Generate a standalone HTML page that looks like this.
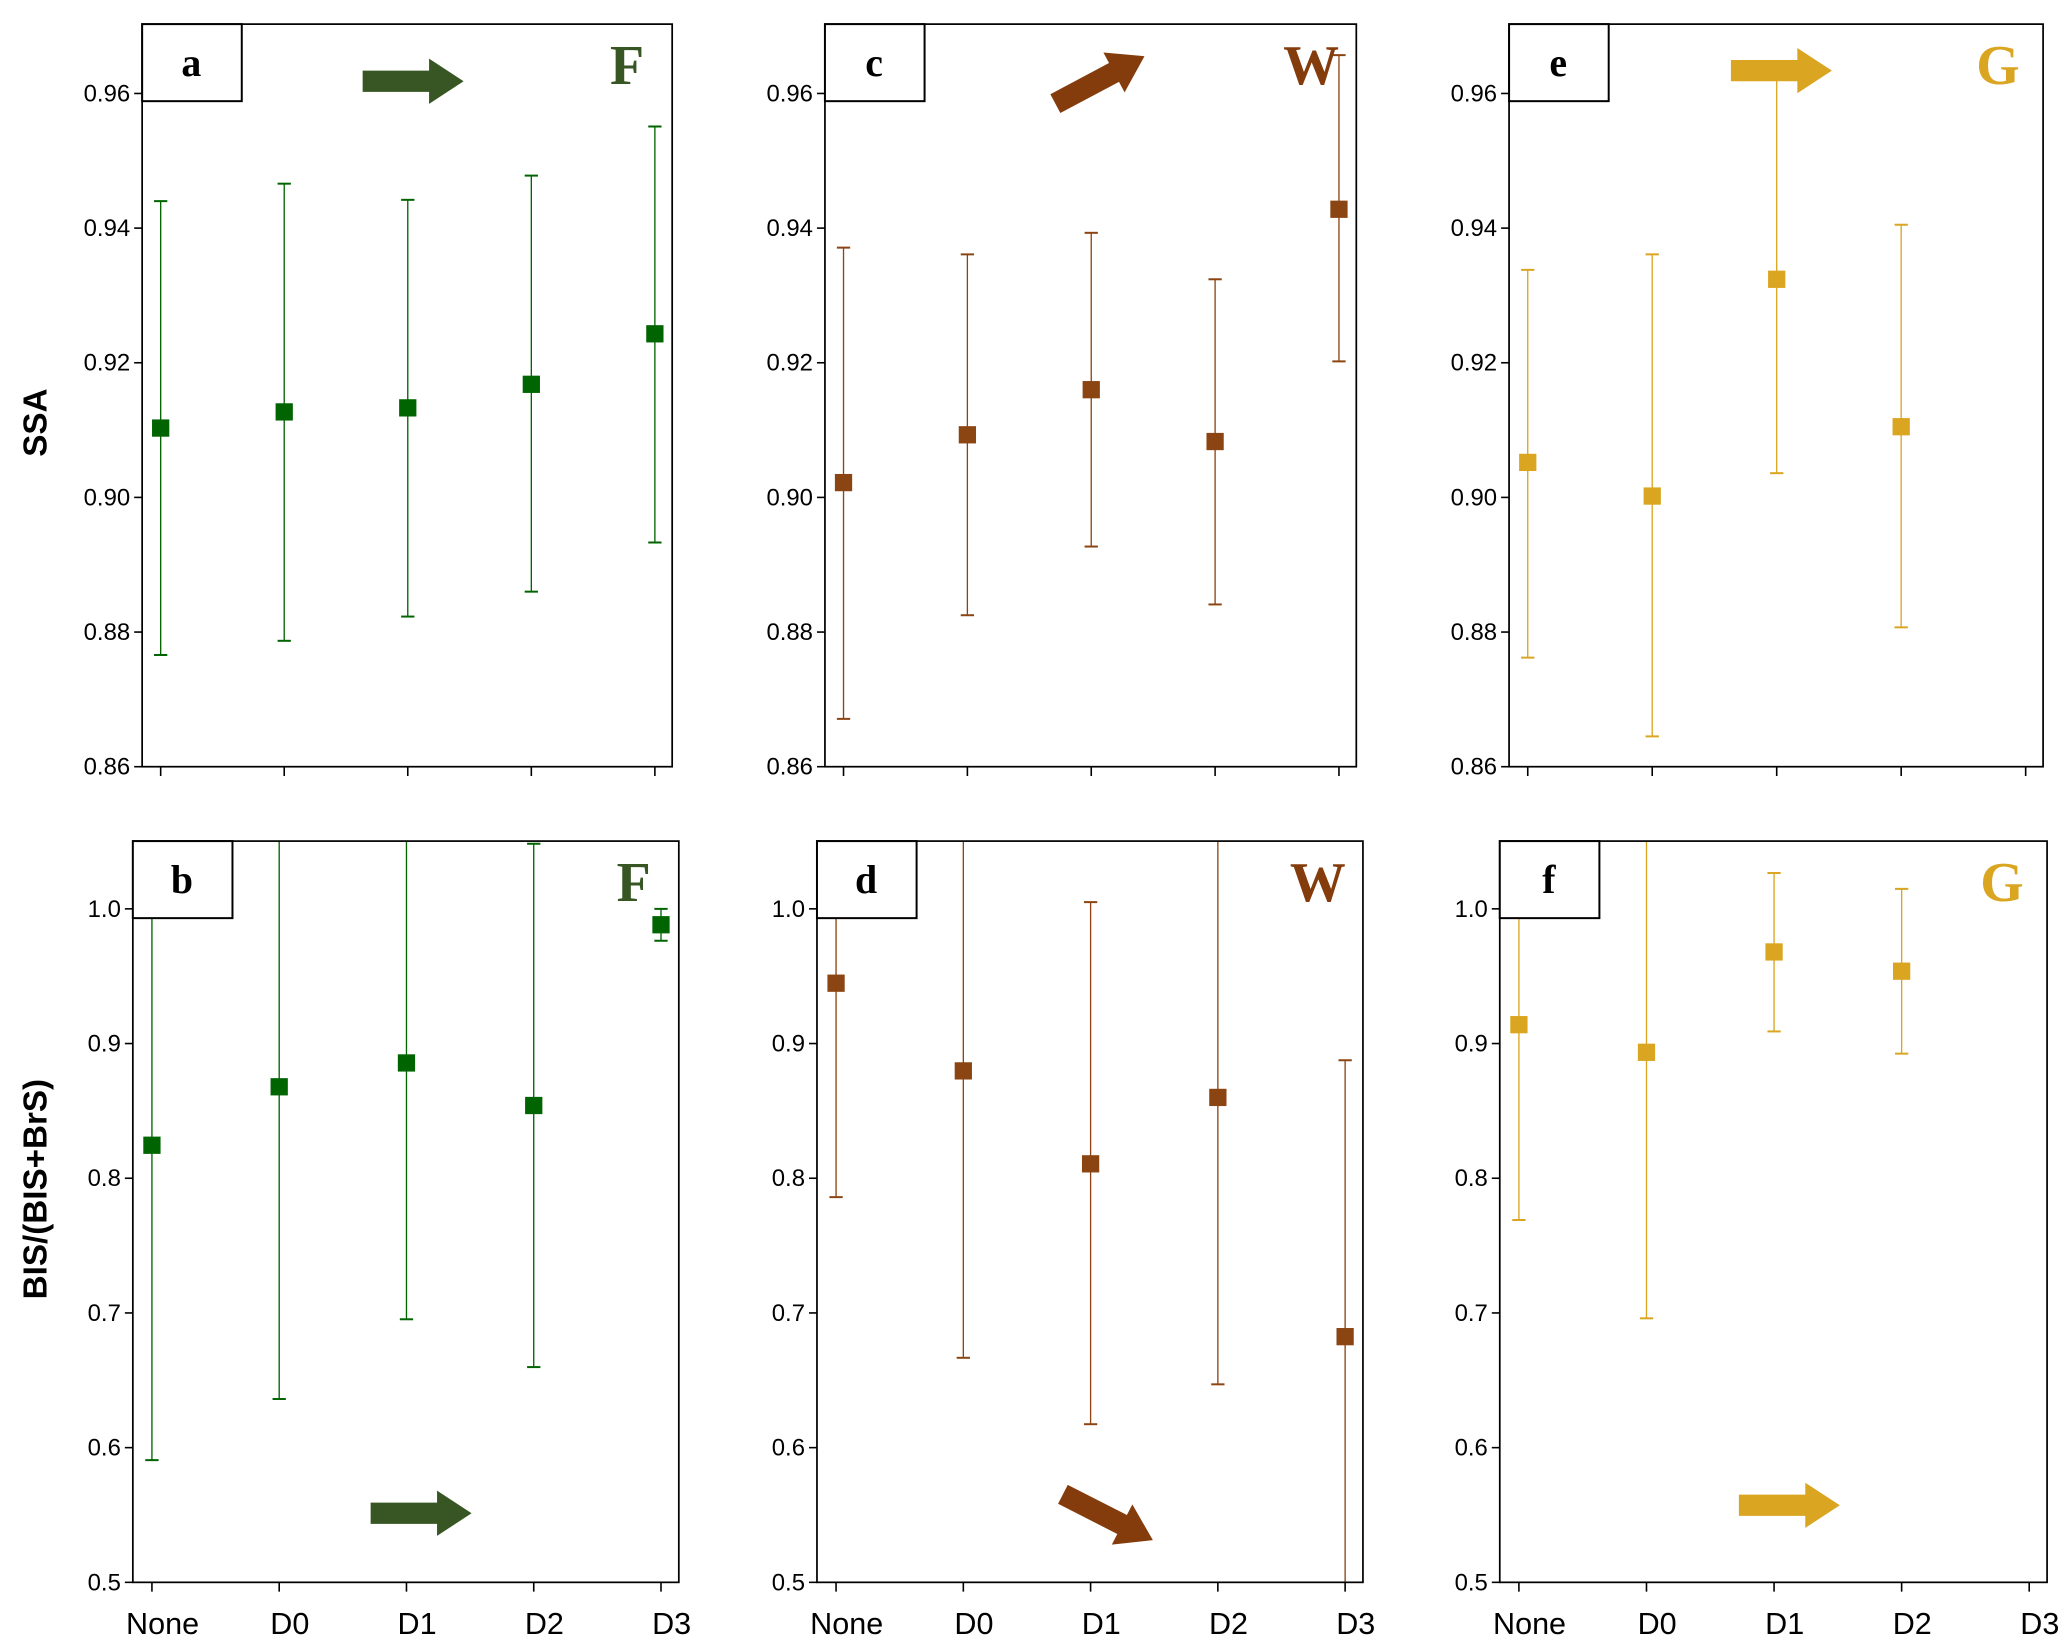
<!DOCTYPE html>
<html><head><meta charset="utf-8"><style>
html,body{margin:0;padding:0;background:#fff;}
svg{display:block;}
</style></head><body>
<svg id="fig" width="2067" height="1641" viewBox="0 0 1556 1235" xmlns="http://www.w3.org/2000/svg" font-family="Liberation Sans, DejaVu Sans, sans-serif"></svg>
<script>
const categories = ["None","D0","D1","D2","D3"];
const ssaTicks = ["0.86","0.88","0.90","0.92","0.94","0.96"];
const bisTicks = ["0.5","0.6","0.7","0.8","0.9","1.0"];
// panel a (F, SSA)
const aMean = [0.9103,0.9127,0.9133,0.9168,0.9243];
const aHigh = [0.9440,0.9466,0.9442,0.9478,0.9551];
const aLow  = [0.8766,0.8787,0.8823,0.8860,0.8933];
// panel c (W, SSA)
const cMean = [0.9022,0.9093,0.9160,0.9083,0.9428];
const cHigh = [0.9371,0.9361,0.9393,0.9324,0.9657];
const cLow  = [0.8671,0.8825,0.8927,0.8841,0.9202];
// panel e (G, SSA)
const eMean = [0.9052,0.9002,0.9324,0.9105];
const eHigh = [0.9338,0.9361,0.9626,0.9405];
const eLow  = [0.8762,0.8645,0.9036,0.8807];
// panel b (F, BIS)
const bMean = [0.8245,0.8679,0.8856,0.8540,0.9882];
const bHigh = [1.10,1.10,1.10,1.0483,1.0000];
const bLow  = [0.5907,0.6361,0.6953,0.6598,0.9763];
// panel d (W, BIS)
const dMean = [0.9448,0.8797,0.8107,0.8600,0.6824];
const dHigh = [1.10,1.10,1.0050,1.10,0.8876];
const dLow  = [0.7860,0.6667,0.6174,0.6470,0.45];
// panel f (G, BIS)
const fMean = [0.9140,0.8935,0.9680,0.9537];
const fHigh = [1.10,1.10,1.0266,1.0148];
const fLow  = [0.7690,0.6960,0.9090,0.8925];

const NS="http://www.w3.org/2000/svg";
const svg=document.getElementById('fig');
function mk(tag,attrs,parent){const e=document.createElementNS(NS,tag);for(const k in attrs)e.setAttribute(k,attrs[k]);(parent||svg).appendChild(e);return e;}

const GREEN="#006400", BROWN="#8B4513", GOLD="#DAA520";
const panels=[
 {id:'a',x0:107,x1:506,y0:18,y1:577,ymin:0.86,ymax:0.9703,ticks:ssaTicks,mean:aMean,hi:aHigh,lo:aLow,col:GREEN,lcol:"#375623",let:'F',box:[107,18],xl:false},
 {id:'c',x0:621,x1:1021,y0:18,y1:577,ymin:0.86,ymax:0.9703,ticks:ssaTicks,mean:cMean,hi:cHigh,lo:cLow,col:BROWN,lcol:"#843C0C",let:'W',box:[621,18],xl:false},
 {id:'e',x0:1136,x1:1538,y0:18,y1:577,ymin:0.86,ymax:0.9703,ticks:ssaTicks,mean:eMean,hi:eHigh,lo:eLow,col:GOLD,lcol:"#DAA520",let:'G',box:[1136,18],xl:false},
 {id:'b',x0:100,x1:511,y0:633,y1:1191,ymin:0.5,ymax:1.0503,ticks:bisTicks,mean:bMean,hi:bHigh,lo:bLow,col:GREEN,lcol:"#375623",let:'F',box:[100,633],xl:true},
 {id:'d',x0:615,x1:1026,y0:633,y1:1191,ymin:0.5,ymax:1.0503,ticks:bisTicks,mean:dMean,hi:dHigh,lo:dLow,col:BROWN,lcol:"#843C0C",let:'W',box:[615,633],xl:true},
 {id:'f',x0:1129,x1:1541,y0:633,y1:1191,ymin:0.5,ymax:1.0503,ticks:bisTicks,mean:fMean,hi:fHigh,lo:fLow,col:GOLD,lcol:"#DAA520",let:'G',box:[1129,633],xl:true}
];

panels.forEach(p=>{
  const g=mk('g',{});
  
  
  const xs=i=>p.x0+(p.x1-p.x0)*((i+0.15)/4.29);
  const ys=v=>p.y1-(v-p.ymin)/(p.ymax-p.ymin)*(p.y1-p.y0);
  mk('defs',{},g).innerHTML=`<clipPath id="clip-${p.id}"><rect x="${p.x0}" y="${p.y0}" width="${p.x1-p.x0}" height="${p.y1-p.y0}"/></clipPath>`;
  p.ticks.forEach(t=>{
    const y=ys(parseFloat(t));
    const tk=mk('line',{x1:p.x0-6,x2:p.x0,y1:y,y2:y,stroke:'#000','stroke-width':1.2},g);
    
    
    const tl=mk('text',{x:p.x0-9,y:y+6,'text-anchor':'end','font-size':18,fill:'#000'},g);
    tl.textContent=t;
    
    
  });
  categories.forEach((c,i)=>{
    const x=xs(i);
    const tk=mk('line',{x1:x,x2:x,y1:p.y1,y2:p.y1+7,stroke:'#000','stroke-width':1.2},g);
    
    
    if(p.xl){
      const tl=mk('text',{x:x+8,y:p.y1+39,'text-anchor':'middle','font-size':23,fill:'#000'},g);
      tl.textContent=c;
      
      
    }
  });
  const sg=mk('g',{'clip-path':`url(#clip-${p.id})`},g);
  p.mean.forEach((m,i)=>{
    const x=xs(i);
    const eb=mk('line',{x1:x,x2:x,y1:ys(p.hi[i]),y2:ys(p.lo[i]),stroke:p.col,'stroke-width':1},sg);
    
    
    [p.hi[i],p.lo[i]].forEach(v=>{
      const cp=mk('line',{x1:x-5,x2:x+5,y1:ys(v),y2:ys(v),stroke:p.col,'stroke-width':1.5},sg);
      
      
    });
    const mr=mk('rect',{x:x-6.5,y:ys(m)-6.5,width:13,height:13,fill:p.col},sg);
    
    
  });
  const fr=mk('rect',{x:p.x0,y:p.y0,width:p.x1-p.x0,height:p.y1-p.y0,fill:'none',stroke:'#000','stroke-width':1.3},g);
  
  
  const bx=mk('rect',{x:p.box[0],y:p.box[1],width:75,height:58,fill:'#fff',stroke:'#000','stroke-width':1.5},g);
  
  
  const bt=mk('text',{x:p.box[0]+37,y:p.box[1]+39,'text-anchor':'middle','font-size':30,'font-weight':'bold','font-family':'Liberation Serif, serif',fill:'#000'},g);
  bt.textContent=p.id;
  
  
  const lt=mk('text',{x:p.x1-34,y:p.y0+45,'text-anchor':'middle','font-size':42,'font-weight':'bold','font-family':'Liberation Serif, serif',fill:p.lcol},g);
  lt.textContent=p.let;
  
  
});

function arrow(cx,cy,ang,color,name){
  const a=mk('polygon',{points:"-38,-8 12,-8 12,-17 38,0 12,17 12,8 -38,8",fill:color,transform:`translate(${cx},${cy}) rotate(${ang})`});
  
  
}
arrow(311,61,0,"#375623",'trend-arrow-a');
arrow(317,1139,0,"#375623",'trend-arrow-b');
arrow(828,60,-28,"#843C0C",'trend-arrow-c');
arrow(834,1142,27,"#843C0C",'trend-arrow-d');
arrow(1341,53,0,"#DAA520",'trend-arrow-e');
arrow(1347,1133,0,"#DAA520",'trend-arrow-f');

const t1=mk('text',{x:0,y:0,transform:'translate(35,318) rotate(-90)','text-anchor':'middle','font-size':25,'font-weight':'bold',fill:'#000'});
t1.textContent='SSA';


const t2=mk('text',{x:0,y:0,transform:'translate(35,895) rotate(-90)','text-anchor':'middle','font-size':25,'font-weight':'bold',fill:'#000'});
t2.textContent='BIS/(BIS+BrS)';


</script>
</body></html>
